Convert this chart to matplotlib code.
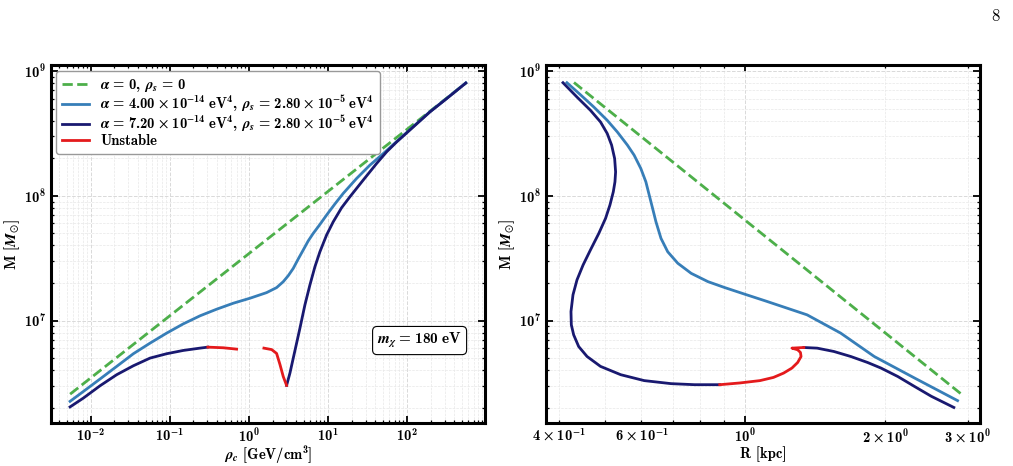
import numpy as np
import matplotlib
matplotlib.use("Agg")
import matplotlib.pyplot as plt
import matplotlib.ticker as mticker

plt.rcParams.update({
    "font.family": "serif",
    "font.serif": ["cmb10"],
    "mathtext.fontset": "custom",
    "mathtext.rm": "cmb10",
    "mathtext.bf": "cmb10",
    "mathtext.it": "STIXGeneral:italic:bold",
    "mathtext.fallback": "stix",
    "axes.formatter.use_mathtext": True,
})

# ---- data ----
# alpha = 0
rho_a0 = [5.5e-3, 569]
M_a0 = [2.57e6, 8.1e8]
R_a0 = [0.430, 2.91]
M_a0_R = [8.1e8, 2.57e6]

# alpha = 4.00e-14 eV^4 : M vs rho_c
rho_a4 = [5.49e-3, 8.09e-3, 0.01315, 0.02136, 0.0347, 0.0564, 0.0915, 0.1487, 0.2416,
          0.3925, 0.6373, 1.036, 1.682, 2.25, 2.733, 3.16, 3.656, 4.23, 4.89, 5.65,
          6.54, 7.95, 9.65, 12.30, 15.65, 23.1, 34.06, 50.2, 74.1, 120.1,
          195.3, 317.7, 557]
M_a4 = [2.25e6, 2.70e6, 3.40e6, 4.29e6, 5.42e6, 6.59e6, 7.93e6, 9.41e6, 1.091e7,
        1.233e7, 1.377e7, 1.510e7, 1.675e7, 1.837e7, 2.05e7, 2.29e7, 2.62e7, 3.12e7,
        3.68e7, 4.35e7, 5.00e7, 5.90e7, 7.01e7, 8.61e7, 1.045e8, 1.377e8,
        1.762e8, 2.18e8, 2.72e8, 3.58e8, 4.72e8, 6.03e8, 8.05e8]
# alpha = 4.00e-14 eV^4 : M vs R
R_a4 = [0.4153, 0.4438, 0.4743, 0.5067, 0.5326, 0.5598, 0.5786, 0.5981, 0.6132,
        0.6234, 0.6339, 0.6445, 0.6607, 0.6830, 0.7178, 0.7670, 0.8333, 0.9054,
        1.000, 1.105, 1.359, 1.604, 1.893, 2.310, 2.856]
M_a4_R = [8.07e8, 6.47e8, 5.15e8, 4.03e8, 3.25e8, 2.55e8, 2.12e8, 1.656e8, 1.294e8,
          1.014e8, 7.93e7, 6.19e7, 4.56e7, 3.56e7, 2.88e7, 2.39e7, 2.05e7, 1.837e7,
          1.625e7, 1.439e7, 1.111e7, 7.93e6, 5.15e6, 3.46e6, 2.28e6]

# alpha = 7.20e-14 eV^4 : M vs rho_c, stable branches
rho_a7_lo = [5.49e-3, 8.09e-3, 0.01315, 0.02136, 0.0347, 0.0564, 0.0915, 0.1487,
             0.2416, 0.304]
M_a7_lo = [2.03e6, 2.39e6, 3.00e6, 3.68e6, 4.34e6, 5.00e6, 5.42e6, 5.76e6, 6.01e6, 6.12e6]
rho_a7_hi = [3.011, 3.318, 3.656, 4.030, 4.440, 5.135, 5.939, 6.870, 7.946, 9.65,
             11.71, 14.93, 19.03, 28.0, 41.4, 55.4, 74.1, 120.1, 195.3, 317.7, 557]
M_a7_hi = [3.02e6, 3.79e6, 5.00e6, 6.59e6, 8.69e6, 1.336e7, 1.931e7, 2.70e7, 3.56e7,
           4.85e7, 6.19e7, 8.02e7, 9.82e7, 1.336e8, 1.816e8, 2.25e8, 2.70e8, 3.56e8,
           4.70e8, 6.01e8, 8.02e8]
# unstable pieces (rho_c)
rho_un1 = [0.304, 0.4764, 0.7025]
M_un1 = [6.12e6, 6.05e6, 5.90e6]
rho_un2 = [1.556, 1.95, 2.25, 2.48, 2.73, 3.011]
M_un2 = [6.01e6, 5.85e6, 5.45e6, 4.45e6, 3.56e6, 3.02e6]

# alpha = 7.20e-14 eV^4 : M vs R
R_a7_top = [0.4073, 0.4365, 0.4664, 0.4902, 0.5067, 0.5178, 0.5256, 0.5281, 0.5264,
            0.5221, 0.5135, 0.5025, 0.4861, 0.4664, 0.4498, 0.4365, 0.4279, 0.4237,
            0.4244, 0.4293, 0.4401, 0.4587, 0.4902, 0.5416, 0.6081, 0.6943, 0.7798,
            0.8830]
M_a7_top = [8.07e8, 6.19e8, 4.85e8, 3.91e8, 3.16e8, 2.55e8, 1.99e8, 1.556e8, 1.294e8,
            1.076e8, 8.43e7, 6.59e7, 5.00e7, 3.68e7, 2.79e7, 2.12e7, 1.607e7, 1.180e7,
            9.25e6, 7.69e6, 6.19e6, 5.15e6, 4.29e6, 3.68e6, 3.30e6, 3.12e6, 3.06e6,
            3.06e6]
R_un = [0.8830, 0.9754, 1.077, 1.151, 1.210, 1.261, 1.297, 1.319, 1.315, 1.297,
        1.261, 1.337]
M_un = [3.06e6, 3.16e6, 3.30e6, 3.50e6, 3.79e6, 4.16e6, 4.61e6, 5.15e6, 5.55e6,
        5.83e6, 6.01e6, 6.08e6]
R_a7_bot = [1.337, 1.428, 1.551, 1.686, 1.832, 1.957, 2.126, 2.310, 2.509, 2.804]
M_a7_bot = [6.08e6, 6.01e6, 5.65e6, 5.15e6, 4.61e6, 4.16e6, 3.56e6, 2.96e6, 2.47e6,
            2.01e6]

c_green = "#4daf4a"
c_blue = "#377eb8"
c_navy = "#191970"
c_red = "#e41a1c"
lw = 2.0


class BoldLog(mticker.LogFormatterSciNotation):
    # cmb10 has no minus / times glyph under \mathdefault, route through \mathrm
    def __call__(self, x, pos=None):
        s = super().__call__(x, pos)
        return s.replace(r"\mathdefault", r"\mathrm").replace(r"\times", r"\,\times\,")


fig = plt.figure(figsize=(10.13, 4.66), dpi=100)
ax1 = fig.add_axes([0.050, 0.0916, 0.429, 0.769])
ax2 = fig.add_axes([0.5387, 0.0916, 0.4287, 0.769])

lbl0 = r"$\alpha\,=\,0,\ \rho_s\,=\,0$"
lbl4 = (r"$\alpha\,=\,4.00\,\times\,10^{-14}\ \mathrm{eV}^4,\ "
        r"\rho_s\,=\,2.80\,\times\,10^{-5}\ \mathrm{eV}^4$")
lbl7 = (r"$\alpha\,=\,7.20\,\times\,10^{-14}\ \mathrm{eV}^4,\ "
        r"\rho_s\,=\,2.80\,\times\,10^{-5}\ \mathrm{eV}^4$")

# left panel
ax1.plot(rho_a0, M_a0, "--", color=c_green, lw=lw, label=lbl0)
ax1.plot(rho_a4, M_a4, color=c_blue, lw=lw, label=lbl4)
ax1.plot(rho_a7_lo, M_a7_lo, color=c_navy, lw=lw, label=lbl7)
ax1.plot(rho_a7_hi, M_a7_hi, color=c_navy, lw=lw)
ax1.plot(rho_un1, M_un1, color=c_red, lw=lw, label="Unstable", zorder=3)
ax1.plot(rho_un2, M_un2, color=c_red, lw=lw, zorder=3)

# right panel
ax2.plot(R_a0, M_a0_R, "--", color=c_green, lw=lw)
ax2.plot(R_a4, M_a4_R, color=c_blue, lw=lw)
ax2.plot(R_a7_top, M_a7_top, color=c_navy, lw=lw)
ax2.plot(R_a7_bot, M_a7_bot, color=c_navy, lw=lw)
ax2.plot(R_un, M_un, color=c_red, lw=lw, zorder=3)

for ax in (ax1, ax2):
    ax.set_xscale("log")
    ax.set_yscale("log")
    ax.set_ylim(1.5e6, 1.12e9)
    for a in (ax.xaxis, ax.yaxis):
        a.set_major_formatter(BoldLog())
        a.set_minor_formatter(BoldLog(labelOnlyBase=False))
    ax.grid(which="major", ls="--", lw=0.7, color="0.85")
    ax.grid(which="minor", ls="--", lw=0.5, color="0.91")
    ax.tick_params(which="both", direction="in", top=True, right=True, labelsize=10.5)
    ax.tick_params(which="major", length=5, width=1.3)
    ax.tick_params(which="minor", length=2.5, width=0.9)
    ax.tick_params(axis="x", which="both", pad=2.5)
    for s in ax.spines.values():
        s.set_linewidth(2.2)
    ax.set_ylabel(r"M [$M_{\odot}$]", fontsize=11, labelpad=1)

ax1.set_xlim(3.12e-3, 9.8e2)
ax2.set_xlim(0.374, 3.19)
ax1.set_xlabel(r"$\rho_c$ [GeV/cm$^3$]", fontsize=10.5, labelpad=0)
ax2.set_xlabel("R [kpc]", fontsize=10.5, labelpad=1)

leg = ax1.legend(loc="upper left", fontsize=10.5, handlelength=1.8, framealpha=1,
                 edgecolor="0.6", borderpad=0.4, labelspacing=0.0,
                 borderaxespad=0.4)
ax1.text(0.849, 0.231, r"$m_\chi\,=\,180\ \mathrm{eV}$", transform=ax1.transAxes,
         ha="center", va="center", fontsize=11,
         bbox=dict(boxstyle="round,pad=0.3", fc="white", ec="black", lw=0.8))

fig.text(0.987, 0.965, "8", ha="right", va="center", fontsize=12, family="cmr10")

fig.savefig("out.png", dpi=100)
